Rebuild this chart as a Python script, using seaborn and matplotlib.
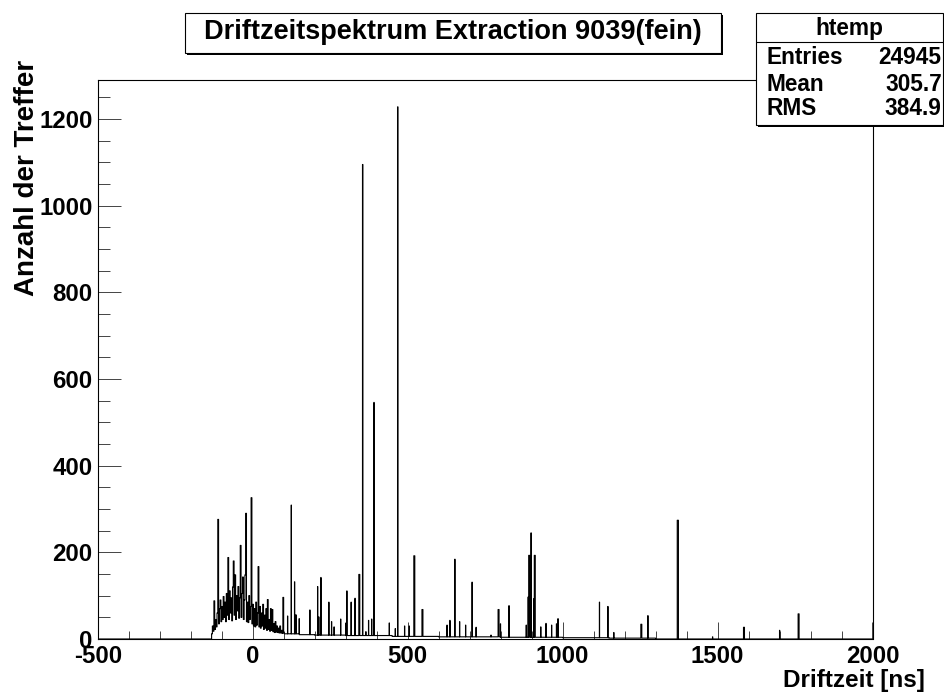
import numpy as np
import pandas as pd
import matplotlib
matplotlib.use("Agg")
import matplotlib.pyplot as plt
import seaborn as sns
from matplotlib.patches import Rectangle
from matplotlib.ticker import MultipleLocator

# ---------------- data ----------------
title_text = "Driftzeitspektrum Extraction 9039(fein)"
x_title = "Driftzeit [ns]"
y_title = "Anzahl der Treffer"
stats_name = "htemp"
stats_labels = ["Entries", "Mean", "RMS"]
stats_values = ["24945", "305.7", "384.9"]

x_min, x_max = -500, 2000
bin_width = 0.625          # fine binning of the histogram

# dense, noisy region (one value per 2.5 ns, starting at -135 ns)
dense_start = -135.0
dense_step = 2.5
dense_counts = [0, 12, 30, 18, 88, 22, 45, 28, 60, 276, 35, 70, 90, 40, 75, 45,
                98, 50, 85, 40, 105, 55, 188, 45, 111, 60, 95, 42, 120, 180, 55,
                148, 45, 100, 65, 121, 48, 95, 216, 50, 105, 143, 45, 90, 148,
                290, 40, 85, 38, 100, 45, 75, 326, 35, 80, 30, 70, 28, 85, 32,
                60, 167, 28, 75, 25, 60, 30, 80, 22, 55, 25, 70, 20, 91, 22, 45,
                18, 70, 20, 68, 17, 35, 15, 40, 16, 30, 15, 25, 14, 30, 14, 20,
                13, 96, 14]

# slowly falling background after the dense region (segment edges in ns)
baseline_edges = [102.5, 150, 200, 300, 450, 600, 800, 1000, 1150, 1300]
baseline_counts = [12, 10, 9, 8, 6, 5, 4, 3, 2]

# isolated peaks: position [ns], height [counts], width [fine bins]
spike_ns = [112.5, 124.4, 135, 139.4, 150, 184.8, 209.4, 213.7, 220.2, 246,
            254.6, 263, 284, 301, 304, 318, 330, 342.9, 354.8, 365.5, 374, 384,
            391.4, 441, 460.3, 467.8, 490.4, 505.5, 520.6, 546.4, 627, 636.8,
            651.9, 668, 687.4, 707.9, 720.8, 769, 791.9, 799.5, 827.4, 883,
            888.8, 891, 898.5, 907, 909.2, 929.4, 946.6, 964.9, 980, 985, 1119,
            1146, 1165.5, 1252.7, 1275, 1370, 1484, 1584, 1700, 1760]
spike_counts = [53, 309, 132, 56, 47, 67, 121, 51, 142, 85,
                40, 28, 46, 37, 111, 85, 94, 149, 1095, 17, 43, 46,
                546, 37, 24, 1228, 30, 30, 192, 68, 32, 43,
                184, 40, 32, 131, 27, 9, 68, 35, 77, 32,
                97, 193, 245, 93, 193, 28, 36, 32, 35, 47, 85,
                75, 15, 34, 54, 274, 5, 27, 20, 58]
spike_nbins = [1, 1, 1, 1, 1, 1, 1, 1, 1, 1,
               1, 1, 1, 1, 1, 1, 1, 5, 2, 1, 1, 1,
               1, 1, 1, 2, 1, 1, 5, 5, 1, 1,
               2, 1, 1, 2, 1, 1, 5, 1, 1, 1,
               1, 5, 1, 1, 5, 1, 1, 1, 1, 1, 1,
               2, 1, 5, 1, 6, 1, 5, 1, 5]

# ---------------- build histogram ----------------
edges = np.arange(x_min, x_max + bin_width / 2, bin_width)
centers = edges[:-1] + bin_width / 2
counts = np.zeros(len(centers))

rep = int(round(dense_step / bin_width))
i0 = int(round((dense_start - x_min) / bin_width))
dense_fine = np.repeat(dense_counts, rep)
counts[i0:i0 + len(dense_fine)] = dense_fine

for a, b, v in zip(baseline_edges[:-1], baseline_edges[1:], baseline_counts):
    m = (edges[:-1] >= a) & (edges[:-1] < b)
    counts[m] = v

for s, c, w in zip(spike_ns, spike_counts, spike_nbins):
    j = int((s - x_min) // bin_width)
    counts[j:j + w] = np.maximum(counts[j:j + w], c)

df = pd.DataFrame({"t": centers, "n": counts})

# ---------------- figure ----------------
sns.set_style("white")
plt.rcParams["font.family"] = ["Liberation Sans", "DejaVu Sans"]
plt.rcParams["font.weight"] = "bold"
plt.rcParams["axes.unicode_minus"] = False
for key in ["text.color", "axes.labelcolor", "xtick.color", "ytick.color",
            "axes.edgecolor"]:
    plt.rcParams[key] = "black"

W, H = 945, 696
fig = plt.figure(figsize=(W / 100, H / 100), dpi=100)
fig.patch.set_facecolor("white")

ax_l, ax_r, ax_t, ax_b = 97.7, 872.5, 80, 639
ax = fig.add_axes([ax_l / W, 1 - ax_b / H, (ax_r - ax_l) / W, (ax_b - ax_t) / H])

sns.histplot(data=df, x="t", weights="n", bins=edges.tolist(), element="step",
             fill=False, color="black", linewidth=0.8, ax=ax)

ax.set_xlim(x_min, x_max)
ax.set_ylim(0, 1290)
ax.set_xlabel("")
ax.set_ylabel("")

ax.xaxis.set_major_locator(MultipleLocator(500))
ax.xaxis.set_minor_locator(MultipleLocator(100))
ax.yaxis.set_major_locator(MultipleLocator(200))
ax.yaxis.set_minor_locator(MultipleLocator(50))

ax.tick_params(axis="x", which="major", direction="in", length=12.2, width=0.7,
               pad=4, labelsize=17.3, color="#444444", labelcolor="black",
               bottom=True, top=False)
ax.tick_params(axis="x", which="minor", direction="in", length=6.1, width=0.7,
               color="#444444", bottom=True, top=False)
ax.tick_params(axis="y", which="major", direction="in", length=16.6, width=0.7,
               pad=3.6, labelsize=17.3, color="#444444", labelcolor="black",
               left=True, right=False)
ax.tick_params(axis="y", which="minor", direction="in", length=8.4, width=0.7,
               color="#444444", left=True, right=False)
for lbl in ax.get_xticklabels() + ax.get_yticklabels():
    lbl.set_fontweight("bold")

for sp in ax.spines.values():
    sp.set_color("black")
    sp.set_linewidth(0.8)

# axis titles
fig.text(925 / W, 1 - 681 / H, x_title, ha="right", va="center",
         fontsize=17.5, fontweight="bold")
fig.text(27 / W, 1 - 60 / H, y_title, ha="center", va="top", rotation=90,
         fontsize=20, fontweight="bold")

def fig_rect(x0, y0, x1, y1, **kw):
    r = Rectangle((x0 / W, 1 - y1 / H), (x1 - x0) / W, (y1 - y0) / H,
                  transform=fig.transFigure, **kw)
    fig.add_artist(r)
    return r

# title box (with small shadow)
tx0, ty0, tx1, ty1 = 185, 13.3, 720.7, 53.3
fig_rect(tx0 + 2, ty0 + 2, tx1 + 2, ty1 + 2, facecolor="black", lw=0, zorder=10)
fig_rect(tx0, ty0, tx1, ty1, facecolor="white", edgecolor="black", lw=0.8, zorder=11)
fig.text((tx0 + tx1) / 2 / W, 1 - 39.3 / H, title_text, ha="center", va="baseline",
         fontsize=19.5, fontweight="bold", zorder=12)

# stats box (with small shadow)
sx0, sy0, sx1, sy1 = 755.7, 13.3, 943, 125
fig_rect(sx0 + 2, sy0 + 2, sx1 + 2, sy1 + 2, facecolor="black", lw=0, zorder=10)
fig_rect(sx0, sy0, sx1, sy1, facecolor="white", edgecolor="black", lw=0.8, zorder=11)
fig.add_artist(plt.Line2D([sx0 / W, sx1 / W], [1 - 41.7 / H, 1 - 41.7 / H],
                          transform=fig.transFigure, color="black", lw=0.8, zorder=12))
fig.text((sx0 + sx1) / 2 / W, 1 - 35 / H, stats_name, ha="center", va="baseline",
         fontsize=16.3, fontweight="bold", zorder=12)
row_baselines = [64, 91, 115]
for yy, lab, val in zip(row_baselines, stats_labels, stats_values):
    fig.text(766.7 / W, 1 - yy / H, lab, ha="left", va="baseline",
             fontsize=16.3, fontweight="bold", zorder=12)
    fig.text(941.7 / W, 1 - yy / H, val, ha="right", va="baseline",
             fontsize=16.3, fontweight="bold", zorder=12)

fig.savefig("out.png", dpi=100, facecolor="white")
